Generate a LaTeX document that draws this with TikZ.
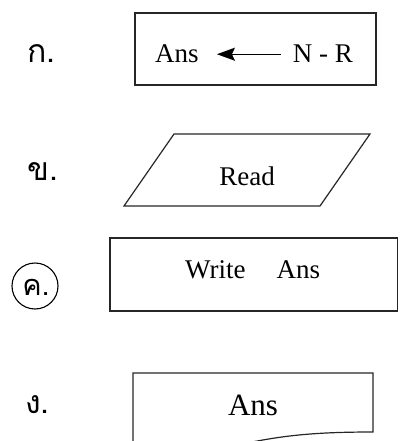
\documentclass[tikz,border=0pt]{standalone}
\usepackage{fontspec}
\setmainfont{Liberation Serif}
\newfontfamily\thaifont[Script=Thai]{Loma}
\usetikzlibrary{arrows.meta}
\begin{document}
\begin{tikzpicture}[x=1pt,y=-1pt,
  shapeline/.style={draw=black!85,line width=1.2pt},
  lbl/.style={inner sep=0pt,font=\thaifont\fontsize{32}{32}\selectfont},
  txt/.style={inner sep=0pt,font=\fontsize{27}{27}\selectfont}]
\useasboundingbox (0,0) rectangle (399,441);
% A
\node[lbl,anchor=base west] (la) at (27,63) {ก.};
\draw[shapeline] (135,13) rectangle (376,85);
\node[txt,anchor=base west] (ans1) at (155,63) {Ans};
\node[txt,anchor=base east] (nr) at (353,63) {N - R};
\draw[line width=1.4pt,-{Stealth[length=18pt,width=13pt,inset=3pt]},shorten >=18pt,shorten <=12pt] (nr.west|-ans1.center) -- (ans1.east|-ans1.center);
% B
\node[lbl,anchor=base west] (lb) at (27,180) {ข.};
\draw[shapeline] (174,134) -- (370,134) -- (320,206) -- (124,206) -- cycle;
\node[txt,anchor=base] (read) at (247,185) {Read};
% C
\draw[line width=1.1pt] (35,286) circle (23);
\node[lbl,anchor=base,font=\thaifont\fontsize{29}{29}\selectfont] (lc) at (36,295) {ค.};
\draw[shapeline] (110,238) rectangle (397.5,311);
\node[txt,anchor=base west] (write) at (185,278) {Write\hspace{31pt}Ans};
% D
\node[lbl,anchor=base west] (ld) at (25,413) {ง.};
\draw[shapeline] (133,450) -- (133,373) -- (373,373) -- (373,432) .. controls (310,432) and (275,436) .. (225,448);
\node[txt,anchor=base,font=\fontsize{31}{31}\selectfont] (ans4) at (253,415) {Ans};
\end{tikzpicture}
\end{document}
